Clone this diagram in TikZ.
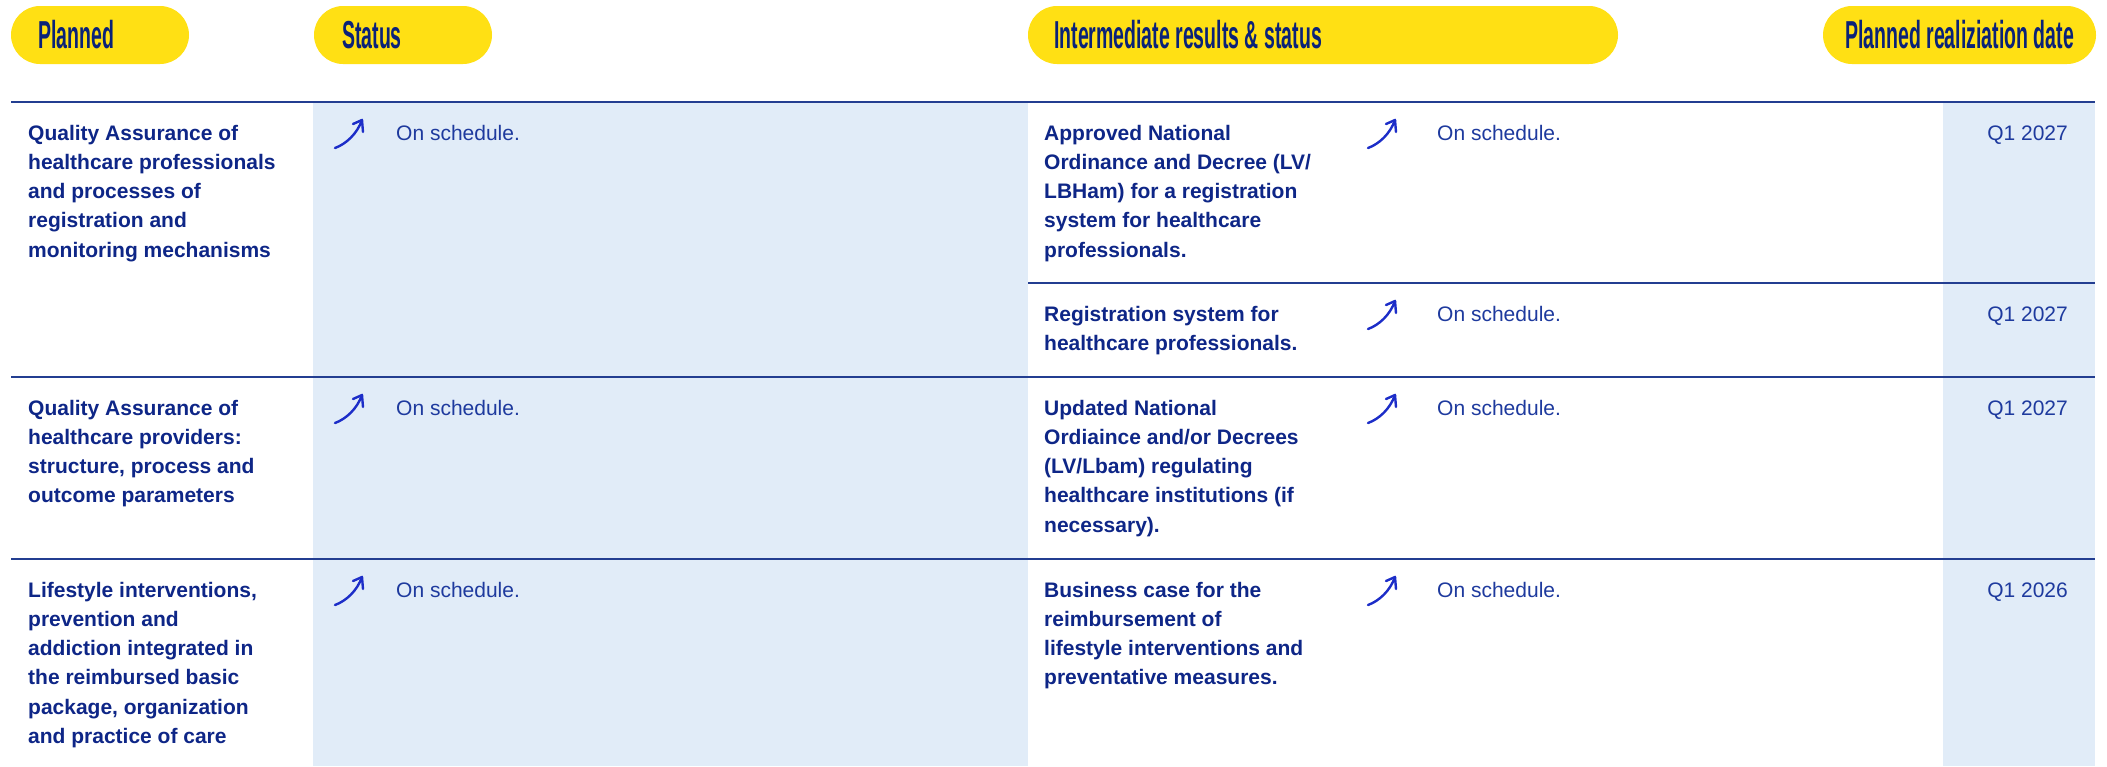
\documentclass[tikz,border=0pt]{standalone}
\usepackage{fontspec}
\setmainfont{Liberation Sans}
\newfontfamily\headfont{Liberation Sans}[FakeStretch=0.5]
\usetikzlibrary{arrows.meta}
\definecolor{pillyellow}{RGB}{255,224,20}
\definecolor{navy}{RGB}{14,38,135}
\definecolor{headnavy}{RGB}{10,34,120}
\definecolor{statusblue}{RGB}{30,58,158}
\definecolor{rulecol}{RGB}{35,62,145}
\definecolor{colblue}{RGB}{225,236,248}
\definecolor{arrowblue}{RGB}{28,45,200}
\newcommand\myfirststrut{\rule{0pt}{16pt}}
\tikzset{
  pill/.style={fill=pillyellow, draw=none, rounded corners=29pt, minimum height=58pt, inner sep=0pt},
  headtext/.style={anchor=base west, inner sep=0pt, text=headnavy, font=\headfont\bfseries\fontsize{39}{44}\selectfont},
  body/.style={anchor=north west, inner sep=0pt, align=left, text=navy, font=\fontsize{21}{29.2}\selectfont\bfseries},
  stat/.style={anchor=base west, inner sep=0pt, text=statusblue, font=\fontsize{21}{29.2}\selectfont},
  datetext/.style={anchor=base east, inner sep=0pt, text=statusblue, font=\fontsize{21}{29.2}\selectfont},
  rowrule/.style={draw=rulecol, line width=1.5pt},
  arrowline/.style={draw=arrowblue, line width=2.4pt, line cap=round, line join=round},
  trend/.pic={
    \draw[arrowline] (0,0) .. controls (11,-4) and (22,-14) .. (27,-28);
    \draw[arrowline] (18,-24) -- (27,-28) -- (28,-16);
  }
}
\begin{document}
\begin{tikzpicture}[x=1pt,y=-1pt]
\useasboundingbox (0,0) rectangle (2107,766);
\fill[white] (0,0) rectangle (2107,766);
% column shading
\fill[colblue] (313,102) rectangle (1028,766);
\fill[colblue] (1943,102) rectangle (2095,766);
% header pills
\node[pill, minimum width=178pt] (pPlanned) at (100,35) {};
\node[pill, minimum width=178pt] (pStatus) at (403,35) {};
\node[pill, minimum width=590pt] (pInter) at (1323,35) {};
\node[pill, minimum width=273pt] (pDate) at (1959.5,35) {};
\node[headtext] (hPlanned) at (38,48) {Planned};
\node[headtext] (hStatus) at (342,48) {Status};
\node[headtext] (hInter) at (1054,48) {Intermediate results \& status};
\node[headtext] (hDate) at (1845,48) {Planned realiziation date};
% rules
\draw[rowrule] (11,102) -- (2095,102);
\draw[rowrule] (1028,283) -- (2095,283);
\draw[rowrule] (11,377) -- (2095,377);
\draw[rowrule] (11,559) -- (2095,559);
% row 1
\node[body] (r1plan) at (28,124) {\myfirststrut Quality Assurance of\\healthcare professionals\\and processes of\\registration and\\monitoring mechanisms};
\pic at (335,148) {trend};
\node[stat] (r1stat) at (396,140) {On schedule.};
\node[body] (r1aint) at (1044,124) {\myfirststrut Approved National\\Ordinance and Decree (LV/\\LBHam) for a registration\\system for healthcare\\professionals.};
\pic at (1368,148) {trend};
\node[stat] (r1astat) at (1437,140) {On schedule.};
\node[datetext] (r1adate) at (2068,140) {Q1 2027};
\node[body] (r1bint) at (1044,305) {\myfirststrut Registration system for\\healthcare professionals.};
\pic at (1368,329) {trend};
\node[stat] (r1bstat) at (1437,321) {On schedule.};
\node[datetext] (r1bdate) at (2068,321) {Q1 2027};
% row 2
\node[body] (r2plan) at (28,399) {\myfirststrut Quality Assurance of\\healthcare providers:\\structure, process and\\outcome parameters};
\pic at (335,423) {trend};
\node[stat] (r2stat) at (396,415) {On schedule.};
\node[body] (r2int) at (1044,399) {\myfirststrut Updated National\\Ordiaince and/or Decrees\\(LV/Lbam) regulating\\healthcare institutions (if\\necessary).};
\pic at (1368,423) {trend};
\node[stat] (r2istat) at (1437,415) {On schedule.};
\node[datetext] (r2date) at (2068,415) {Q1 2027};
% row 3
\node[body] (r3plan) at (28,581) {\myfirststrut Lifestyle interventions,\\prevention and\\addiction integrated in\\the reimbursed basic\\package, organization\\and practice of care};
\pic at (335,605) {trend};
\node[stat] (r3stat) at (396,597) {On schedule.};
\node[body] (r3int) at (1044,581) {\myfirststrut Business case for the\\reimbursement of\\lifestyle interventions and\\preventative measures.};
\pic at (1368,605) {trend};
\node[stat] (r3istat) at (1437,597) {On schedule.};
\node[datetext] (r3date) at (2068,597) {Q1 2026};
\end{tikzpicture}
\end{document}
